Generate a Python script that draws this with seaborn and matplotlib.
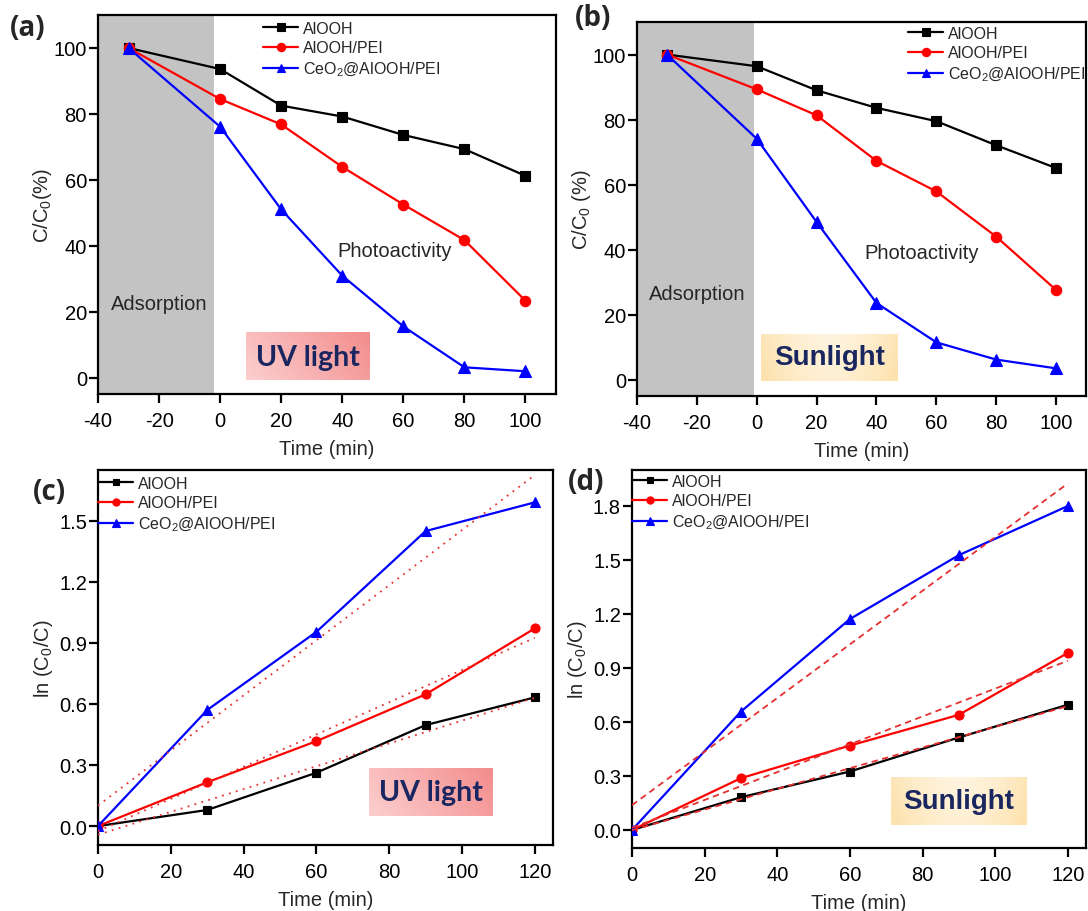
import numpy as np
import matplotlib
matplotlib.use('Agg')
import matplotlib.pyplot as plt
import seaborn as sns
from matplotlib.colors import LinearSegmentedColormap
from matplotlib.ticker import FormatStrFormatter, MultipleLocator

# ---------------- data ----------------
time_ab = [-30, 0, 20, 40, 60, 80, 100]
uv_alooh = [100, 93.6, 82.5, 79.2, 73.6, 69.3, 61.2]
uv_pei = [100, 84.5, 76.8, 63.9, 52.5, 41.7, 23.3]
uv_ceo2 = [100, 76.1, 51.0, 30.9, 15.5, 3.1, 1.9]
sun_alooh = [100, 96.4, 89.0, 83.6, 79.5, 72.1, 65.1]
sun_pei = [100, 89.3, 81.3, 67.3, 57.9, 44.0, 27.6]
sun_ceo2 = [100, 74.1, 48.5, 23.6, 11.5, 6.2, 3.5]

time_cd = [0, 30, 60, 90, 120]
k_uv_alooh = [0, 0.079, 0.262, 0.496, 0.632]
k_uv_pei = [0, 0.215, 0.417, 0.647, 0.971]
k_uv_ceo2 = [0, 0.570, 0.954, 1.449, 1.590]
k_sun_alooh = [0, 0.182, 0.325, 0.514, 0.696]
k_sun_pei = [0, 0.288, 0.469, 0.640, 0.984]
k_sun_ceo2 = [0, 0.658, 1.172, 1.527, 1.800]

series_labels = ['AlOOH', 'AlOOH/PEI', 'CeO$_2$@AlOOH/PEI']
panel_labels = ['(a)', '(b)', '(c)', '(d)']
light_labels = ['UV light', 'Sunlight']

# ---------------- style ----------------
sns.set_style('ticks')
plt.rcParams['font.family'] = ['Liberation Sans', 'DejaVu Sans']
plt.rcParams['mathtext.fontset'] = 'custom'
plt.rcParams['mathtext.rm'] = 'Liberation Sans'
plt.rcParams['mathtext.it'] = 'Liberation Sans:italic'
plt.rcParams['axes.unicode_minus'] = False
plt.rcParams['axes.linewidth'] = 1.6
plt.rcParams['axes.edgecolor'] = 'black'

colors = ['#000000', '#ff0000', '#0000ff']
markers = ['s', 'o', '^']
NAVY = '#1a2660'
FS = 14.5

fig = plt.figure(figsize=(10.88, 9.12), dpi=100)
W, H = 1088, 912


def add_ax(l, r, t, b):
    return fig.add_axes([l / W, 1 - b / H, (r - l) / W, (b - t) / H])


ax_a = add_ax(98, 556, 16, 395)
ax_b = add_ax(637, 1086, 23, 397)
ax_c = add_ax(98, 553, 471, 846)
ax_d = add_ax(632, 1086, 471, 849)

uv_cmap = LinearSegmentedColormap.from_list('uv', ['#fccfcf', '#f38c8c'])
sun_cmap = LinearSegmentedColormap.from_list('sun', ['#fff4df', '#fde2ae'])


def gradient_box(ax, x0, x1, y0, y1, kind):
    gx = np.linspace(0, 1, 80)
    gy = np.linspace(0, 1, 40)
    X, Y = np.meshgrid(gx, gy)
    if kind == 0:
        Z = 0.75 * X + 0.25 * Y
        cmap = uv_cmap
    else:
        Z = np.clip(np.abs(2 * X - 1) ** 1.5 * 0.8 + 0.25 * (1 - Y), 0, 1)
        cmap = sun_cmap
    ax.imshow(Z, extent=[x0, x1, y0, y1], origin='lower', cmap=cmap,
              aspect='auto', zorder=1, interpolation='bilinear')


def draw_series(ax, x, ys, msizes, lw):
    for y, lab, col, mk, ms in zip(ys, series_labels, colors, markers, msizes):
        sns.lineplot(x=x, y=y, ax=ax, color=col, marker=mk, markersize=ms,
                     markeredgecolor=col, markeredgewidth=0.8, linewidth=lw,
                     label=lab, legend=False, errorbar=None, zorder=4)


def style_axis(ax):
    ax.tick_params(direction='out', length=6.5, width=1.6, labelsize=FS,
                   colors='black', top=False, right=False)
    ax.tick_params(axis='x', pad=5.5)
    ax.tick_params(axis='y', pad=1.5)
    for s in ax.spines.values():
        s.set_visible(True)
        s.set_linewidth(1.6)
    ax.set_xlabel('Time (min)', fontsize=FS, labelpad=7)


def legend(ax, x, y):
    handles, labels = ax.get_legend_handles_labels()
    leg = ax.legend(handles[:3], labels[:3], loc='upper left',
                    bbox_to_anchor=(x, y), frameon=False, fontsize=11.5,
                    handlelength=2.2, handletextpad=0.3, labelspacing=0.28,
                    borderpad=0, borderaxespad=0, markerscale=0.8)
    return leg


def light_text(ax, box, lk, z):
    cx = (box[0] + box[1]) / 2
    cy = (box[2] + box[3]) / 2
    if lk == 0:
        ax.text(cx, cy, light_labels[0], fontsize=20.5, fontfamily='Lato',
                fontweight='bold', color=NAVY, ha='center', va='center', zorder=z)
    else:
        ax.text(cx, cy, light_labels[1], fontsize=20, fontfamily='Liberation Sans',
                fontweight='bold', color=NAVY, ha='center', va='center', zorder=z)


# ---------- (a) and (b) ----------
for ax, ys, gray_end, label_y, box, lk in [
        (ax_a, [uv_alooh, uv_pei, uv_ceo2], -2, 'C/C$_0$(%)', (8.6, 49, -0.9, 13.4), 0),
        (ax_b, [sun_alooh, sun_pei, sun_ceo2], -1, 'C/C$_0$ (%)', (1.5, 47.2, -0.3, 14.1), 1)]:
    ax.axvspan(-40, gray_end, color='#c3c3c3', lw=0, zorder=0)
    gradient_box(ax, *box, lk)
    draw_series(ax, time_ab, ys, [7, 7.5, 8], 1.6)
    ax.set_xlim(-40, 110)
    ax.set_ylim(-5, 110)
    ax.xaxis.set_major_locator(MultipleLocator(20))
    ax.yaxis.set_major_locator(MultipleLocator(20))
    style_axis(ax)
    ax.set_ylabel(label_y, fontsize=FS, labelpad=0)
    ax.text(-20, 22.6 if lk == 0 else 26.6, 'Adsorption', fontsize=FS, ha='center',
            va='center', zorder=5)
    ax.text(57 if lk == 0 else 55, 38.5 if lk == 0 else 39, 'Photoactivity',
            fontsize=FS, ha='center', va='center', zorder=5)
    light_text(ax, box, lk, 5)

legend(ax_a, 0.361, 0.985)
legend(ax_b, 0.604, 0.99)

# ---------- (c) and (d) ----------
for ax, ys, ls, ylim, box, lk in [
        (ax_c, [k_uv_alooh, k_uv_pei, k_uv_ceo2], (0, (1, 3)), (-0.093, 1.749),
         (74.5, 108.3, 0.051, 0.283), 0),
        (ax_d, [k_sun_alooh, k_sun_pei, k_sun_ceo2], (0, (3.5, 2.5)), (-0.10, 2.0),
         (71.2, 108.6, 0.028, 0.291), 1)]:
    gradient_box(ax, *box, lk)
    draw_series(ax, time_cd, ys, [5.5, 6.5, 7], 1.6)
    xs = np.array([min(time_cd), max(time_cd)])
    for y in ys:
        coef = np.polyfit(time_cd, y, 1)
        ax.plot(xs, np.polyval(coef, xs), color='#e63030', lw=1.3,
                linestyle=ls, zorder=5)
    ax.set_xlim(0, 125)
    ax.set_ylim(*ylim)
    ax.xaxis.set_major_locator(MultipleLocator(20))
    ax.yaxis.set_major_locator(MultipleLocator(0.3))
    ax.yaxis.set_major_formatter(FormatStrFormatter('%.1f'))
    style_axis(ax)
    ax.set_ylabel('ln (C$_0$/C)', fontsize=FS, labelpad=3)
    light_text(ax, box, lk, 6)

legend(ax_c, 0.0, 0.985)
legend(ax_d, 0.0, 0.99)

# panel labels
for (px, py), lab in zip([(28, 29), (593, 18), (49, 493), (586, 483)], panel_labels):
    fig.text(px / W, 1 - py / H, lab, fontsize=20, fontfamily='Open Sans',
             fontweight='bold', ha='center', va='center')

fig.savefig('out.png', dpi=100)
